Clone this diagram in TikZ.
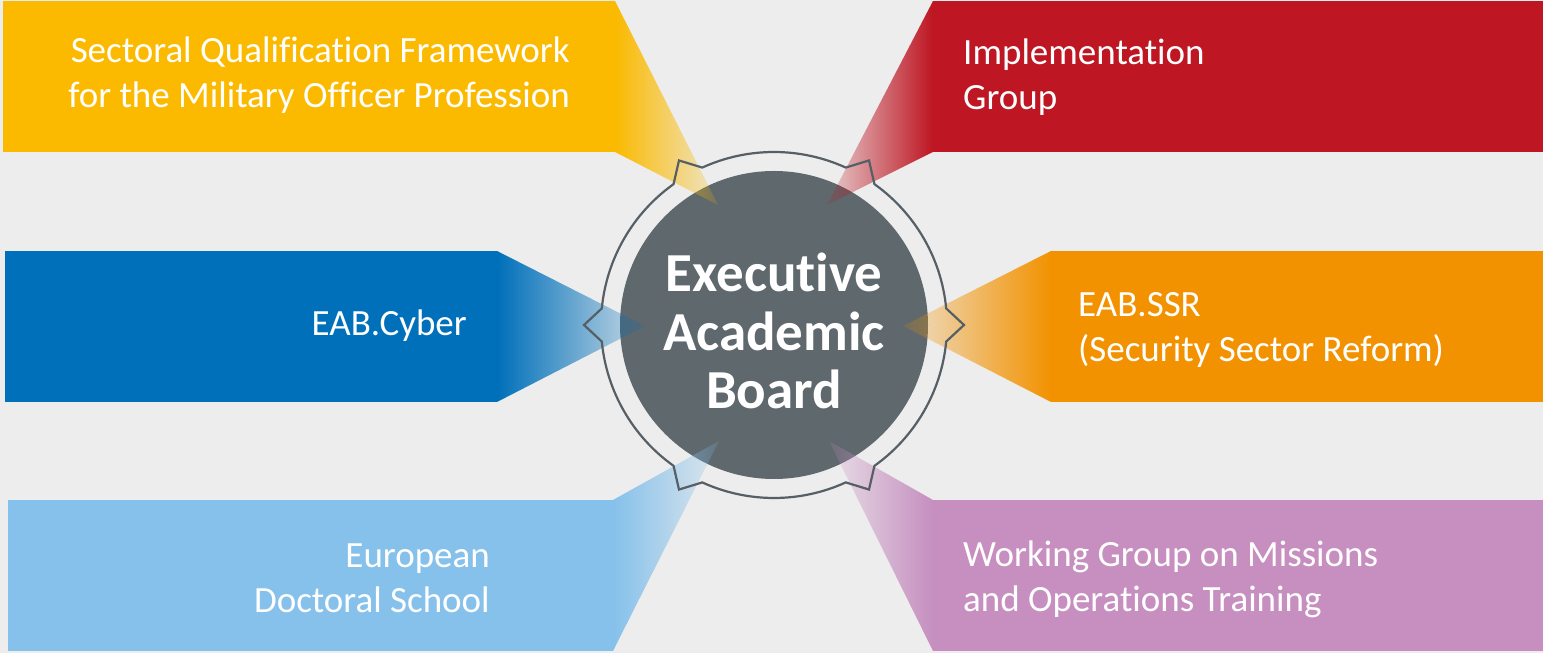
\documentclass[tikz,border=0pt]{standalone}
\usepackage{fontspec}
\setmainfont{Carlito}[Ligatures=NoCommon]
\usetikzlibrary{fadings}

\definecolor{bgGray}{HTML}{EDEDED}
\definecolor{boardGray}{HTML}{5E686D}
\definecolor{ringGray}{HTML}{555F65}
\definecolor{sqfYellow}{HTML}{FBBA00}
\definecolor{implRed}{HTML}{BE1622}
\definecolor{cyberBlue}{HTML}{0070BA}
\definecolor{ssrOrange}{HTML}{F39200}
\definecolor{edsBlue}{HTML}{86C1EB}
\definecolor{wgPurple}{HTML}{C68FC0}

\tikzfading[name=fade tip right, left color=transparent!0, right color=transparent!85]
\tikzfading[name=fade tip left, left color=transparent!85, right color=transparent!0]

\begin{document}
\begin{tikzpicture}[
            x = 1pt, y = 1pt, % one unit per pixel of the slide
            line join = miter
        ]

        \tikzstyle{board}=[
            circle,
            fill = boardGray,
            minimum size = 308pt,
            inner sep = 0pt
        ]
        \tikzstyle{title}=[
            text = white,
            align = center,
            font = \fontsize{55}{58.5}\selectfont\bfseries
        ]
        \tikzstyle{label}=[
            text = white,
            inner sep = 0pt,
            font = \fontsize{37}{45}\selectfont
        ]
        \tikzstyle{ring}=[
            draw = ringGray,
            line width = 2.2pt
        ]

        % slide background
        \useasboundingbox (0,0) rectangle (1543,653);
        \fill[bgGray] (0,0) rectangle (1543,653);

        \node[board] (board) at (774,328) {};

        % banners, left side
        \fill[sqfYellow] (3,501) rectangle (615,652);
        \fill[sqfYellow, path fading=fade tip right] (615,652) -- (718,448) -- (615,501) -- cycle;
        \fill[cyberBlue] (5,251) rectangle (497,402);
        \fill[cyberBlue, path fading=fade tip right] (497,402) -- (645,327) -- (497,251) -- cycle;
        \fill[edsBlue] (8,2) rectangle (613,153);
        \fill[edsBlue, path fading=fade tip right] (613,153) -- (719,212) -- (613,2) -- cycle;

        % banners, right side
        \fill[implRed] (933,501) rectangle (1543,652);
        \fill[implRed, path fading=fade tip left] (933,652) -- (827,448) -- (933,501) -- cycle;
        \fill[ssrOrange] (1051,251) rectangle (1543,402);
        \fill[ssrOrange, path fading=fade tip left] (1051,402) -- (903,327) -- (1051,251) -- cycle;
        \fill[wgPurple] (933,2) rectangle (1543,153);
        \fill[wgPurple, path fading=fade tip left] (933,153) -- (829,212) -- (933,2) -- cycle;

        % ring with a notch at every banner
        \draw[ring, shift={(board.center)}] (5.5:173pt)
            \foreach \a in {0,60,...,300} {
                arc[start angle=\a+5.5, end angle=\a+54.5, radius=173pt]
                -- ({\a+60}:190pt) -- ({\a+65.5}:173pt)
            } -- cycle;

        \node[title] (title) at ([yshift=-6pt]board.center) {Executive\\Academic\\Board};

        % labels, anchored at the baseline of their last line
        \node[label, anchor=base east, align=right] (sqf) at (570,545)
            {Sectoral Qualification Framework\\for the Military Officer Profession};
        \node[label, anchor=base east] (cyber) at (467,317) {EAB.Cyber};
        \node[label, anchor=base east, align=right] (eds) at (490,40)
            {European\\Doctoral School};
        \node[label, anchor=base west, align=left] (impl) at (963,543)
            {Implementation\\Group};
        \node[label, anchor=base west, align=left] (ssr) at (1078,291)
            {EAB.SSR\\(Security Sector Reform)};
        \node[label, anchor=base west, align=left] (wgmot) at (963,41)
            {Working Group on Missions\\and Operations Training};

    \end{tikzpicture}
\end{document}
